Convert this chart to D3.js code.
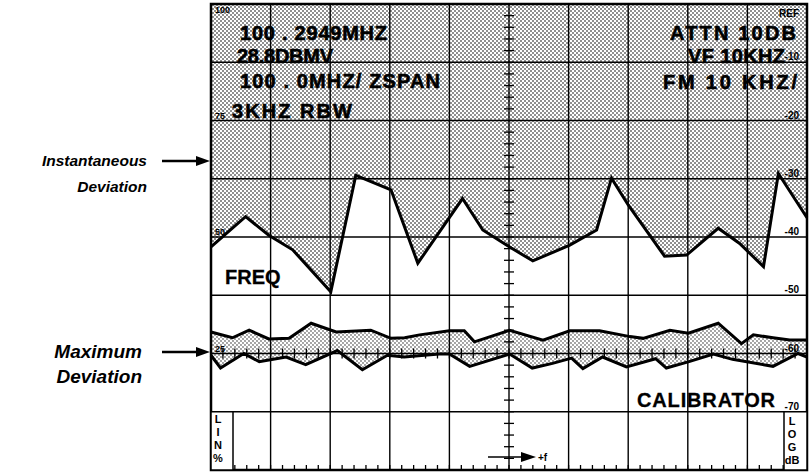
<!DOCTYPE html>
<html>
<head>
<meta charset="utf-8">
<script src="https://cdn.jsdelivr.net/npm/d3@7"></script>
<style>
body { margin: 0; background: #fff; }
svg { display: block; font-family: "Liberation Sans", Arial, sans-serif; }
</style>
</head>
<body>
<div id="chart"></div>
<script>
// instantaneous deviation trace (x in divisions, y in dB below REF)
var instX = [0, 0.58, 0.97, 1.37, 2.01, 2.43, 3.02, 3.47, 4.22, 4.56, 5.04, 5.40, 6.02, 6.47, 6.72, 7.00, 7.61, 7.98, 8.51, 8.87, 9.27, 9.52, 10];
var instY = [-41.7, -36.5, -39.7, -42.2, -49.4, -29.4, -31.9, -44.5, -33.4, -38.8, -41.9, -44.1, -41.4, -38.8, -29.9, -34.5, -43.3, -43.1, -38.5, -41.1, -45.1, -29.1, -36.7];

// maximum deviation band, upper and lower traces
var upperX = [0, 0.36, 0.64, 0.97, 1.31, 1.68, 2.10, 2.68, 3.02, 3.25, 3.50, 4.00, 4.25, 4.42, 5.01, 5.57, 6.02, 6.52, 7.03, 7.25, 7.70, 8.01, 8.51, 8.90, 9.10, 9.43, 9.71, 10];
var upperY = [-56.3, -57.3, -56.0, -57.5, -57.4, -54.8, -56.3, -56.0, -57.4, -57.3, -56.8, -56.1, -56.1, -58.0, -56.0, -57.7, -56.1, -56.1, -57.1, -57.4, -56.0, -56.5, -54.8, -58.3, -56.8, -57.3, -57.7, -57.7];
var lowerX = [0, 0.16, 0.55, 0.81, 0.97, 1.26, 1.59, 2.12, 2.54, 2.96, 3.24, 3.83, 4.00, 4.34, 5.01, 5.39, 5.73, 6.05, 6.24, 6.57, 6.97, 7.46, 7.64, 8.02, 8.43, 8.75, 9.43, 9.85, 10];
var lowerY = [-60.3, -62.5, -60.0, -61.4, -61.1, -60.6, -61.9, -59.5, -62.8, -60.3, -60.6, -60.1, -60.1, -62.2, -60.1, -62.5, -61.7, -60.8, -62.6, -60.6, -62.3, -60.9, -62.5, -61.4, -60.1, -61.0, -62.2, -60.0, -60.6];

// graticule labels
var xDivs = d3.range(0, 11);
var yDivs = d3.range(0, -81, -10);
var logLabels = ["REF", "-10", "-20", "-30", "-40", "-50", "-60", "-70"];
var linLabels = ["100", "75", "50", "25"];
var linLevels = [0, -20, -40, -60];

// screen annotations
var screenLeft = ["100 . 2949MHZ", "28.8DBMV", "100 . 0MHZ/ ZSPAN", "3KHZ RBW"];
var screenRight = ["ATTN 10DB", "VF 10KHZ", "FM 10 KHZ/"];
var annoTop = ["Instantaneous", "Deviation"];
var annoBottom = ["Maximum", "Deviation"];

var W = 809, H = 472;

var x = d3.scaleLinear().domain([0, 10]).range([211, 807]);
var y = d3.scaleLinear().domain([0, -80]).range([4, 470]);

var svg = d3.select("#chart").append("svg")
  .attr("width", W)
  .attr("height", H);

svg.append("rect").attr("width", W).attr("height", H).attr("fill", "#fff");

// halftone patterns
var defs = svg.append("defs");
var dense = defs.append("pattern").attr("id", "dense")
  .attr("patternUnits", "userSpaceOnUse").attr("width", 4).attr("height", 4);
dense.append("rect").attr("width", 4).attr("height", 4).attr("fill", "#fff");
dense.append("circle").attr("cx", 1).attr("cy", 1).attr("r", 0.8).attr("fill", "#000");
dense.append("circle").attr("cx", 3).attr("cy", 3).attr("r", 0.8).attr("fill", "#000");

var light = defs.append("pattern").attr("id", "light")
  .attr("patternUnits", "userSpaceOnUse").attr("width", 4).attr("height", 4);
light.append("rect").attr("width", 4).attr("height", 4).attr("fill", "#fff");
light.append("circle").attr("cx", 1).attr("cy", 1).attr("r", 0.65).attr("fill", "#000");
light.append("circle").attr("cx", 3).attr("cy", 3).attr("r", 0.65).attr("fill", "#000");

var inst = instX.map(function(d, i) { return [d, instY[i]]; });
var upper = upperX.map(function(d, i) { return [d, upperY[i]]; });
var lower = lowerX.map(function(d, i) { return [d, lowerY[i]]; });

var line = d3.line()
  .x(function(d) { return x(d[0]); })
  .y(function(d) { return y(d[1]); });

// shading above the instantaneous trace
svg.append("path")
  .attr("d", d3.area()
    .x(function(d) { return x(d[0]); })
    .y0(y(0))
    .y1(function(d) { return y(d[1]); })(inst))
  .attr("fill", "url(#dense)");

// shading between the max deviation traces
svg.append("path")
  .attr("d", line(upper.concat(lower.slice().reverse())) + "Z")
  .attr("fill", "url(#light)");

// graticule
var grid = svg.append("g").attr("stroke", "#000").attr("stroke-width", 1.4);
grid.selectAll("line.v").data(xDivs).enter().append("line")
  .attr("x1", function(d) { return x(d); }).attr("x2", function(d) { return x(d); })
  .attr("y1", y(0)).attr("y2", y(-80));
grid.selectAll("line.h").data(yDivs).enter().append("line")
  .attr("y1", function(d) { return y(d); }).attr("y2", function(d) { return y(d); })
  .attr("x1", x(0)).attr("x2", x(10));

// minor ticks on the centre lines and the bottom edge
var ticks = svg.append("g").attr("stroke", "#000").attr("stroke-width", 1.3);
ticks.selectAll("line.cy").data(d3.range(0, -80.01, -2)).enter().append("line")
  .attr("x1", x(5) - 5).attr("x2", x(5) + 5)
  .attr("y1", function(d) { return y(d); }).attr("y2", function(d) { return y(d); });
ticks.selectAll("line.cx").data(d3.range(0, 10.01, 0.2)).enter().append("line")
  .attr("x1", function(d) { return x(d); }).attr("x2", function(d) { return x(d); })
  .attr("y1", y(-60) - 5).attr("y2", y(-60) + 5);
ticks.selectAll("line.bx").data(d3.range(0, 10.01, 0.2)).enter().append("line")
  .attr("x1", function(d) { return x(d); }).attr("x2", function(d) { return x(d); })
  .attr("y1", y(-80) - 5).attr("y2", y(-80));

// frame
svg.append("rect")
  .attr("x", x(0)).attr("y", y(0))
  .attr("width", x(10) - x(0)).attr("height", y(-80) - y(0))
  .attr("fill", "none").attr("stroke", "#000").attr("stroke-width", 2.5);

// traces
[inst, upper, lower].forEach(function(t) {
  svg.append("path")
    .attr("d", line(t))
    .attr("fill", "none")
    .attr("stroke", "#000")
    .attr("stroke-width", 3)
    .attr("stroke-linejoin", "miter");
});

// LIN % and LOG dB boxes
svg.append("rect").attr("x", x(0)).attr("y", y(-70))
  .attr("width", 22).attr("height", y(-80) - y(-70))
  .attr("fill", "#fff").attr("stroke", "#000").attr("stroke-width", 1.5);
svg.append("rect").attr("x", 784).attr("y", y(-70))
  .attr("width", x(10) - 784).attr("height", y(-80) - y(-70))
  .attr("fill", "#fff").attr("stroke", "#000").attr("stroke-width", 1.5);

var small = svg.append("g").attr("font-weight", "bold").attr("fill", "#000");
["L", "I", "N", "%"].forEach(function(c, i) {
  small.append("text").attr("x", 218).attr("y", 423 + i * 13)
    .attr("text-anchor", "middle").attr("font-size", 11).text(c);
});
["L", "O", "G", "dB"].forEach(function(c, i) {
  small.append("text").attr("x", 792).attr("y", 425 + i * 13)
    .attr("text-anchor", "middle").attr("font-size", 11).text(c);
});

// scale labels
small.selectAll("text.log").data(logLabels).enter().append("text")
  .attr("x", 799)
  .attr("y", function(d, i) { return i === 0 ? 17 : y(-10 * i) - 2; })
  .attr("text-anchor", "end")
  .attr("font-size", 10)
  .text(function(d) { return d; });
small.selectAll("text.lin").data(linLabels).enter().append("text")
  .attr("x", 215)
  .attr("y", function(d, i) { return i === 0 ? 13 : y(linLevels[i]) - 2; })
  .attr("font-size", 9)
  .text(function(d) { return d; });

// screen readouts
var big = svg.append("g").attr("font-weight", "bold").attr("font-size", 20)
  .attr("fill", "#000").attr("stroke", "#000").attr("stroke-width", 0.6);
var leftPos = [[240, 40, 147], [237, 63, 96], [240, 88, 200], [232, 118, 120]];
big.selectAll("text.sl").data(screenLeft).enter().append("text")
  .attr("x", function(d, i) { return leftPos[i][0]; })
  .attr("y", function(d, i) { return leftPos[i][1]; })
  .attr("textLength", function(d, i) { return leftPos[i][2]; })
  .attr("lengthAdjust", "spacing")
  .text(function(d) { return d; });
var rightPos = [[670, 40, 126], [688, 63, 97], [663, 89, 134]];
big.selectAll("text.sr").data(screenRight).enter().append("text")
  .attr("x", function(d, i) { return rightPos[i][0]; })
  .attr("y", function(d, i) { return rightPos[i][1]; })
  .attr("textLength", function(d, i) { return rightPos[i][2]; })
  .attr("lengthAdjust", "spacing")
  .text(function(d) { return d; });
big.append("text").attr("x", 225).attr("y", 284).attr("stroke-width", 0.3).text("FREQ");
big.append("text").attr("x", 637).attr("y", 407).attr("stroke-width", 0.3)
  .attr("textLength", 138).attr("lengthAdjust", "spacing").text("CALIBRATOR");

// +f arrow
svg.append("line").attr("x1", 488).attr("x2", 525).attr("y1", 457).attr("y2", 457)
  .attr("stroke", "#000").attr("stroke-width", 1.5);
svg.append("path").attr("d", "M536,457 L521,452 L521,462 Z").attr("fill", "#000");
small.append("text").attr("x", 538).attr("y", 461).attr("font-size", 10).text("+f");

// side annotations with arrows
var anno = svg.append("g").attr("font-weight", "bold").attr("font-style", "italic")
  .attr("text-anchor", "end").attr("fill", "#000");
anno.selectAll("text.t").data(annoTop).enter().append("text")
  .attr("x", 147).attr("y", function(d, i) { return 166 + i * 26; })
  .attr("font-size", 15.5)
  .text(function(d) { return d; });
anno.selectAll("text.b").data(annoBottom).enter().append("text")
  .attr("x", 142).attr("y", function(d, i) { return 358 + i * 25; })
  .attr("font-size", 19)
  .text(function(d) { return d; });

[161, 352].forEach(function(ay) {
  svg.append("line").attr("x1", 162).attr("x2", 200).attr("y1", ay).attr("y2", ay)
    .attr("stroke", "#000").attr("stroke-width", 2.5);
  svg.append("path")
    .attr("d", "M210," + ay + " L196," + (ay - 5) + " L196," + (ay + 5) + " Z")
    .attr("fill", "#000");
});
</script>
</body>
</html>
